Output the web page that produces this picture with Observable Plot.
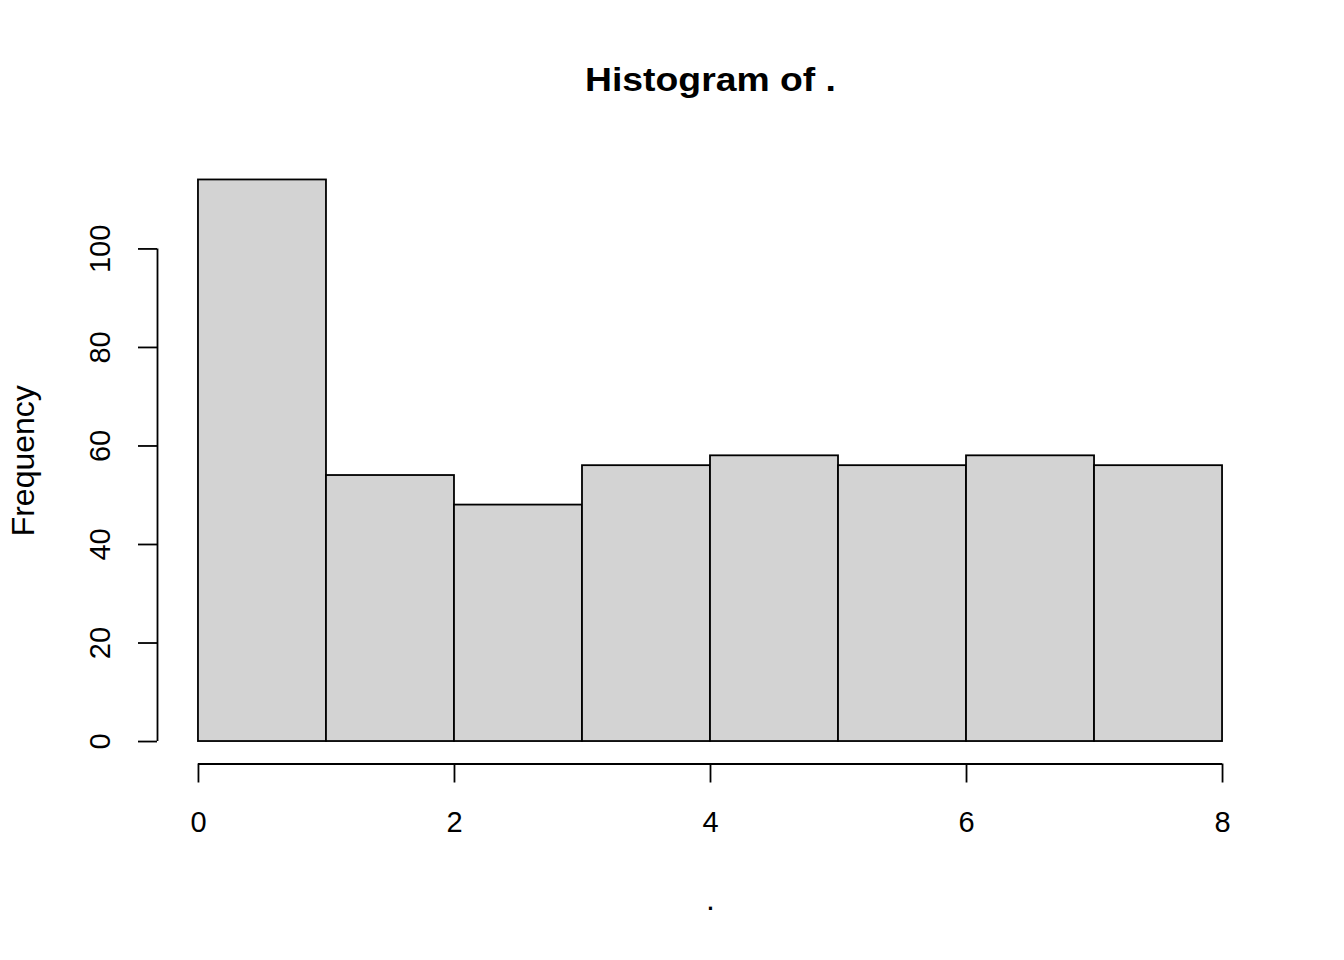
<!DOCTYPE html>
<html>
<head>
<meta charset="utf-8">
<script src="https://cdn.jsdelivr.net/npm/d3@7"></script>
<script src="https://cdn.jsdelivr.net/npm/@observablehq/plot@0.6"></script>
<style>
  html, body { margin: 0; padding: 0; background: #ffffff; }
  #chart svg { display: block; }
</style>
</head>
<body>
<div id="chart"></div>
<script>
// Histogram data
const binStart = [0, 1, 2, 3, 4, 5, 6, 7];
const binEnd   = [1, 2, 3, 4, 5, 6, 7, 8];
const counts   = [114, 54, 48, 56, 58, 56, 58, 56];
const xTicks   = [0, 2, 4, 6, 8];
const yTicks   = [0, 20, 40, 60, 80, 100];
const titleText = "Histogram of .";
const xLabel = ".";
const yLabel = "Frequency";

const bins = binStart.map((s, i) => ({x1: s, x2: binEnd[i], y1: 0, count: counts[i]}));

// R-style 4% range extension
const xMin = d3.min(binStart), xMax = d3.max(binEnd);
const yMax = d3.max(counts);
const xDomain = [xMin - 0.04 * (xMax - xMin), xMax + 0.04 * (xMax - xMin)];
const yDomain = [-0.04 * yMax, 1.04 * yMax];

const font = "'Liberation Sans', Arial, sans-serif";
const axisFont = 29;

const chart = Plot.plot({
  width: 1344,
  height: 960,
  marginLeft: 157,
  marginRight: 81,
  marginTop: 157,
  marginBottom: 196.5,
  style: {fontFamily: font, background: "#ffffff", color: "#000000"},
  x: {type: "linear", domain: xDomain, axis: null},
  y: {type: "linear", domain: yDomain, axis: null},
  marks: [
    Plot.rect(bins, {x1: "x1", x2: "x2", y1: "y1", y2: "count", fill: "#d3d3d3", stroke: "#000000", strokeWidth: 1.8, inset: 0}),
    // x axis
    Plot.ruleY([yDomain[0]], {x1: d3.min(xTicks), x2: d3.max(xTicks), stroke: "#000", strokeWidth: 1.8}),
    Plot.axisX(xTicks, {tickSize: 19, tickPadding: 28, fontSize: axisFont, tickFormat: d => String(d), strokeWidth: 1.8, label: null, anchor: "bottom"}),
    // y axis
    Plot.ruleX([xDomain[0]], {y1: d3.min(yTicks), y2: d3.max(yTicks), stroke: "#000", strokeWidth: 1.8}),
    Plot.axisY(yTicks, {tickSize: 19, fontSize: axisFont, tickFormat: () => "", strokeWidth: 1.8, label: null, anchor: "left"}),
    Plot.text(yTicks, {x: () => xDomain[0], y: d => d, text: d => String(d), rotate: -90, dx: -57, fontSize: axisFont, textAnchor: "middle", lineAnchor: "middle", fill: "#000"}),
    // axis titles
    Plot.text([yLabel], {frameAnchor: "left", text: d => d, rotate: -90, dx: -134, fontSize: 32, textAnchor: "middle", lineAnchor: "middle", fill: "#000"}),
    Plot.text([xLabel], {frameAnchor: "bottom", text: d => d, dy: 146, fontSize: 32, lineAnchor: "bottom", fill: "#000"}),
    // main title
    Plot.text([titleText], {frameAnchor: "top", text: d => d, dy: -67, fontSize: 33, fontWeight: "bold", lineAnchor: "bottom", fill: "#000", className: "main-title"})
  ]
});

document.getElementById("chart").appendChild(chart);
// stretch title to the reference width
d3.select(chart).selectAll(".main-title text").attr("textLength", 251).attr("lengthAdjust", "spacingAndGlyphs");
</script>
</body>
</html>
